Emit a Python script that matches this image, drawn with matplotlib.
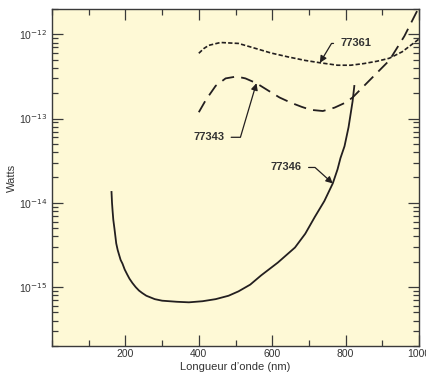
import math
import matplotlib
matplotlib.use("Agg")
import matplotlib.pyplot as plt
from matplotlib.ticker import LogLocator, FuncFormatter, FixedLocator, MultipleLocator, NullFormatter

plt.rcParams['font.family'] = ['Liberation Sans Narrow', 'Liberation Sans', 'DejaVu Sans']
plt.rcParams['mathtext.fontset'] = 'custom'
plt.rcParams['mathtext.rm'] = 'Liberation Sans Narrow'
plt.rcParams['mathtext.it'] = 'Liberation Sans Narrow'
plt.rcParams['mathtext.bf'] = 'Liberation Sans Narrow:bold'

# 77346 (solid)
wl_77346 = [162, 163.5, 165, 167, 170, 173, 175, 179, 183, 187, 192, 198, 205, 211, 219,
            228, 237, 246, 257, 280, 300, 340, 373, 410, 446, 481, 508, 540, 570, 615,
            662, 690, 716, 742, 765, 778, 786, 797, 808, 819, 824]
w_77346 = [1.38e-14, 1.0e-14, 8.1e-15, 6.3e-15, 5.0e-15, 3.9e-15, 3.3e-15, 2.75e-15,
           2.4e-15, 2.1e-15, 1.9e-15, 1.62e-15, 1.41e-15, 1.26e-15, 1.12e-15, 1.0e-15,
           9.1e-16, 8.5e-16, 7.9e-16, 7.2e-16, 6.9e-16, 6.7e-16, 6.6e-16, 6.8e-16,
           7.2e-16, 7.9e-16, 8.9e-16, 1.07e-15, 1.38e-15, 1.95e-15, 2.95e-15, 4.3e-15,
           6.8e-15, 1.05e-14, 1.7e-14, 2.5e-14, 3.4e-14, 4.7e-14, 7.9e-14, 1.6e-13, 2.5e-13]

# 77343 (long dashes)
wl_77343 = [400, 419, 446, 473, 503, 527, 557, 590, 620, 650, 680, 705, 738, 770, 800,
            819, 860, 919, 960, 1000]
w_77343 = [1.19e-13, 1.66e-13, 2.45e-13, 3.0e-13, 3.16e-13, 3.0e-13, 2.63e-13, 2.14e-13,
           1.78e-13, 1.55e-13, 1.38e-13, 1.27e-13, 1.23e-13, 1.35e-13, 1.55e-13, 1.78e-13,
           2.7e-13, 4.9e-13, 9.5e-13, 2.1e-12]

# 77361 (short dashes)
wl_77361 = [400, 414, 427, 459, 508, 550, 597, 643, 690, 730, 778, 814, 850, 886,
            919, 954, 1000]
w_77361 = [5.96e-13, 6.8e-13, 7.4e-13, 8.0e-13, 7.8e-13, 6.9e-13, 6.0e-13, 5.4e-13,
           4.9e-13, 4.6e-13, 4.3e-13, 4.3e-13, 4.5e-13, 4.8e-13, 5.2e-13, 6.2e-13, 8.8e-13]

x_ticks = [200, 400, 600, 800, 1000]
y_ticks = [1e-15, 1e-14, 1e-13, 1e-12]

line_color = '#231f20'
edge_color = '#3a3a3a'

fig = plt.figure(figsize=(4.27, 3.77), dpi=100)
ax = fig.add_axes([0.1218, 0.0822, 0.8595, 0.894])
ax.set_facecolor('#fef9d6')

ax.plot(wl_77346, w_77346, color=line_color, lw=1.3, solid_capstyle='butt')
ax.plot(wl_77343, w_77343, color=line_color, lw=1.3, linestyle=(0, (7, 4)))
ax.plot(wl_77361, w_77361, color=line_color, lw=1.2, linestyle=(0, (2.6, 1.3)))

ax.set_yscale('log')
ax.set_xlim(0, 1000)
ax.set_ylim(2e-16, 2e-12)

ax.xaxis.set_major_locator(FixedLocator(x_ticks))
ax.xaxis.set_minor_locator(MultipleLocator(100))
ax.yaxis.set_major_locator(FixedLocator(y_ticks))
ax.yaxis.set_minor_locator(LogLocator(base=10, subs=range(2, 10)))
ax.yaxis.set_major_formatter(FuncFormatter(lambda v, p: r'10$^{%d}$' % round(math.log10(v))))
ax.yaxis.set_minor_formatter(NullFormatter())

ax.tick_params(which='both', direction='in', top=True, right=True, colors=edge_color,
               labelcolor='#333333', labelsize=7.5, width=0.9)
ax.tick_params(which='major', length=8)
ax.tick_params(which='minor', length=4.3)
ax.tick_params(axis='x', which='major', pad=2.5)
for s in ax.spines.values():
    s.set_color(edge_color)
    s.set_linewidth(1.0)

ax.set_xlabel('Longueur d’onde (nm)', fontsize=8, color='#333333', labelpad=2)
ax.set_ylabel('Watts', fontsize=8, color='#333333', labelpad=1)

arrow = dict(arrowstyle='-|>', color=line_color, lw=0.9, mutation_scale=10, shrinkA=3, shrinkB=0)
ax.annotate('77361', xy=(730, 4.6e-13), xytext=(786, 7.8e-13), fontsize=8, fontweight='bold',
            color='#333333', ha='left', va='center',
            arrowprops=dict(arrow, connectionstyle='angle,angleA=0,angleB=59,rad=0', relpos=(0, 0.5)))
ax.annotate('77343', xy=(557, 2.63e-13), xytext=(427, 6.0e-14), fontsize=8, fontweight='bold',
            color='#333333', ha='center', va='center',
            arrowprops=dict(arrow, connectionstyle='angle,angleA=0,angleB=73.5,rad=0', relpos=(1, 0.5)))
ax.annotate('77346', xy=(765, 1.7e-14), xytext=(638, 2.63e-14), fontsize=8, fontweight='bold',
            color='#333333', ha='center', va='center',
            arrowprops=dict(arrow, connectionstyle='angle,angleA=0,angleB=138,rad=0', relpos=(1, 0.5)))

fig.savefig('out.png', dpi=100)
